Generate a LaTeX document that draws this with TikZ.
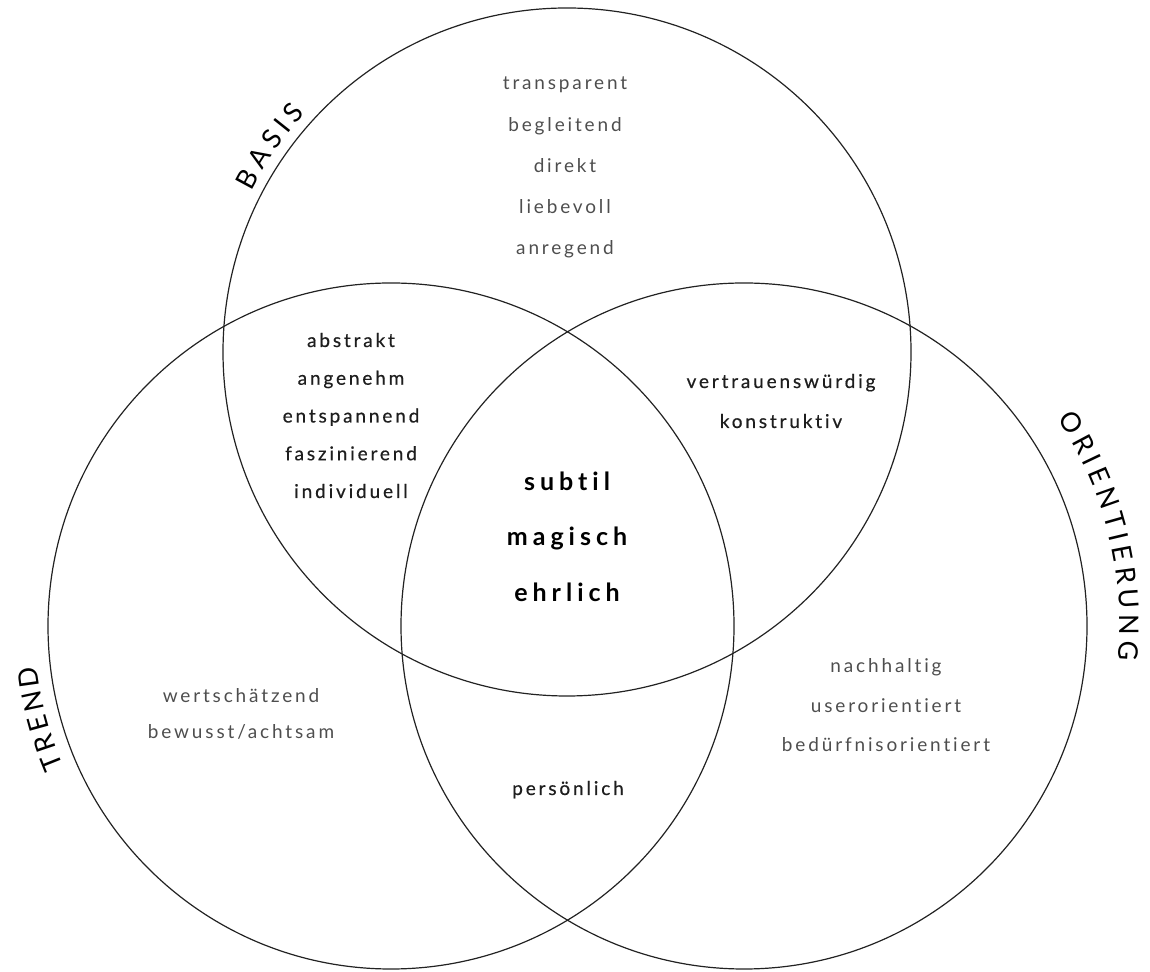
\documentclass[tikz,border=0pt]{standalone}
\usepackage{fontspec}
\setmainfont{Lato}
\newfontfamily\wordfont[LetterSpace=15,Ligatures={NoCommon,NoRequired,NoContextual}]{Lato}
\newfontfamily\pairfont[LetterSpace=15,FakeBold=0.5,Ligatures={NoCommon,NoRequired,NoContextual}]{Lato}
\newfontfamily\keyfont[LetterSpace=20,Ligatures={NoCommon,NoRequired,NoContextual}]{Lato}
\newfontfamily\capsfont{Lato}
\usetikzlibrary{calc,decorations.text}

\definecolor{inkline}{HTML}{222222}
\definecolor{softword}{HTML}{4E4E4E}
\definecolor{midword}{HTML}{1E1E1E}

\tikzset{
  ring/.style={draw=inkline, line width=1.2pt},
  single/.style={anchor=base, inner sep=0pt, text=softword,
    font=\wordfont\fontsize{19}{19}\selectfont},
  pair/.style={anchor=base, inner sep=0pt, text=midword,
    font=\pairfont\fontsize{19}{19}\selectfont},
  core/.style={anchor=base, inner sep=0pt, text=black,
    font=\keyfont\bfseries\fontsize{25}{25}\selectfont},
  setname/.style={decorate, decoration={text along path,
    text={|\capsfont\fontsize{27}{27}\selectfont|#1},
    text color=black, text align={fit to path}}}
}

\begin{document}
\begin{tikzpicture}[x=1pt,y=1pt]
\useasboundingbox (0,0) rectangle (1150,971);

% circle centres
\coordinate (T) at (567,619);
\coordinate (L) at (391,345);
\coordinate (R) at (744,345);

% the three sets
\draw[ring] (T) circle[radius=344];
\draw[ring] (L) circle[radius=343];
\draw[ring] (R) circle[radius=343];

% set names along the outside of each circle
\path[setname=BASIS] ($(T)+(153:354)$) arc[start angle=153, end angle=137.6, radius=354];
\path[setname=TREND] ($(L)+(203.2:356)$) arc[start angle=203.2, end angle=186.4, radius=356];
\path[setname=ORIENTIERUNG] ($(R)+(33.5:376)$) arc[start angle=33.5, end angle=-5.2, radius=376];

% BASIS only
\foreach \w [count=\i] in {transparent,begleitend,direkt,liebevoll,anregend}
  \node[single] (basis-\i) at (565,{971-90-41.25*(\i-1)}) {\w};

% BASIS and TREND
\foreach \w [count=\i] in {abstrakt,angenehm,entspannend,faszinierend,individuell}
  \node[pair] (bt-\i) at (351,{971-347-37.75*(\i-1)}) {\w};

% BASIS and ORIENTIERUNG
\foreach \w [count=\i] in {vertrauenswürdig,konstruktiv}
  \node[pair] (bo-\i) at (781,{971-388-40*(\i-1)}) {\w};

% all three
\foreach \w [count=\i] in {subtil,magisch,ehrlich}
  \node[core] (all-\i) at (567,{971-490.5-55.5*(\i-1)}) {\w};

% TREND only
\foreach \w [count=\i] in {wertschätzend,bewusst/achtsam}
  \node[single] (trend-\i) at (241,{971-703-36*(\i-1)}) {\w};

% ORIENTIERUNG only
\foreach \w [count=\i] in {nachhaltig,userorientiert,bedürfnisorientiert}
  \node[single] (orient-\i) at (886,{971-673-39.5*(\i-1)}) {\w};

% TREND and ORIENTIERUNG
\node[pair] (to-1) at (568,{971-795}) {persönlich};

\end{tikzpicture}
\end{document}
